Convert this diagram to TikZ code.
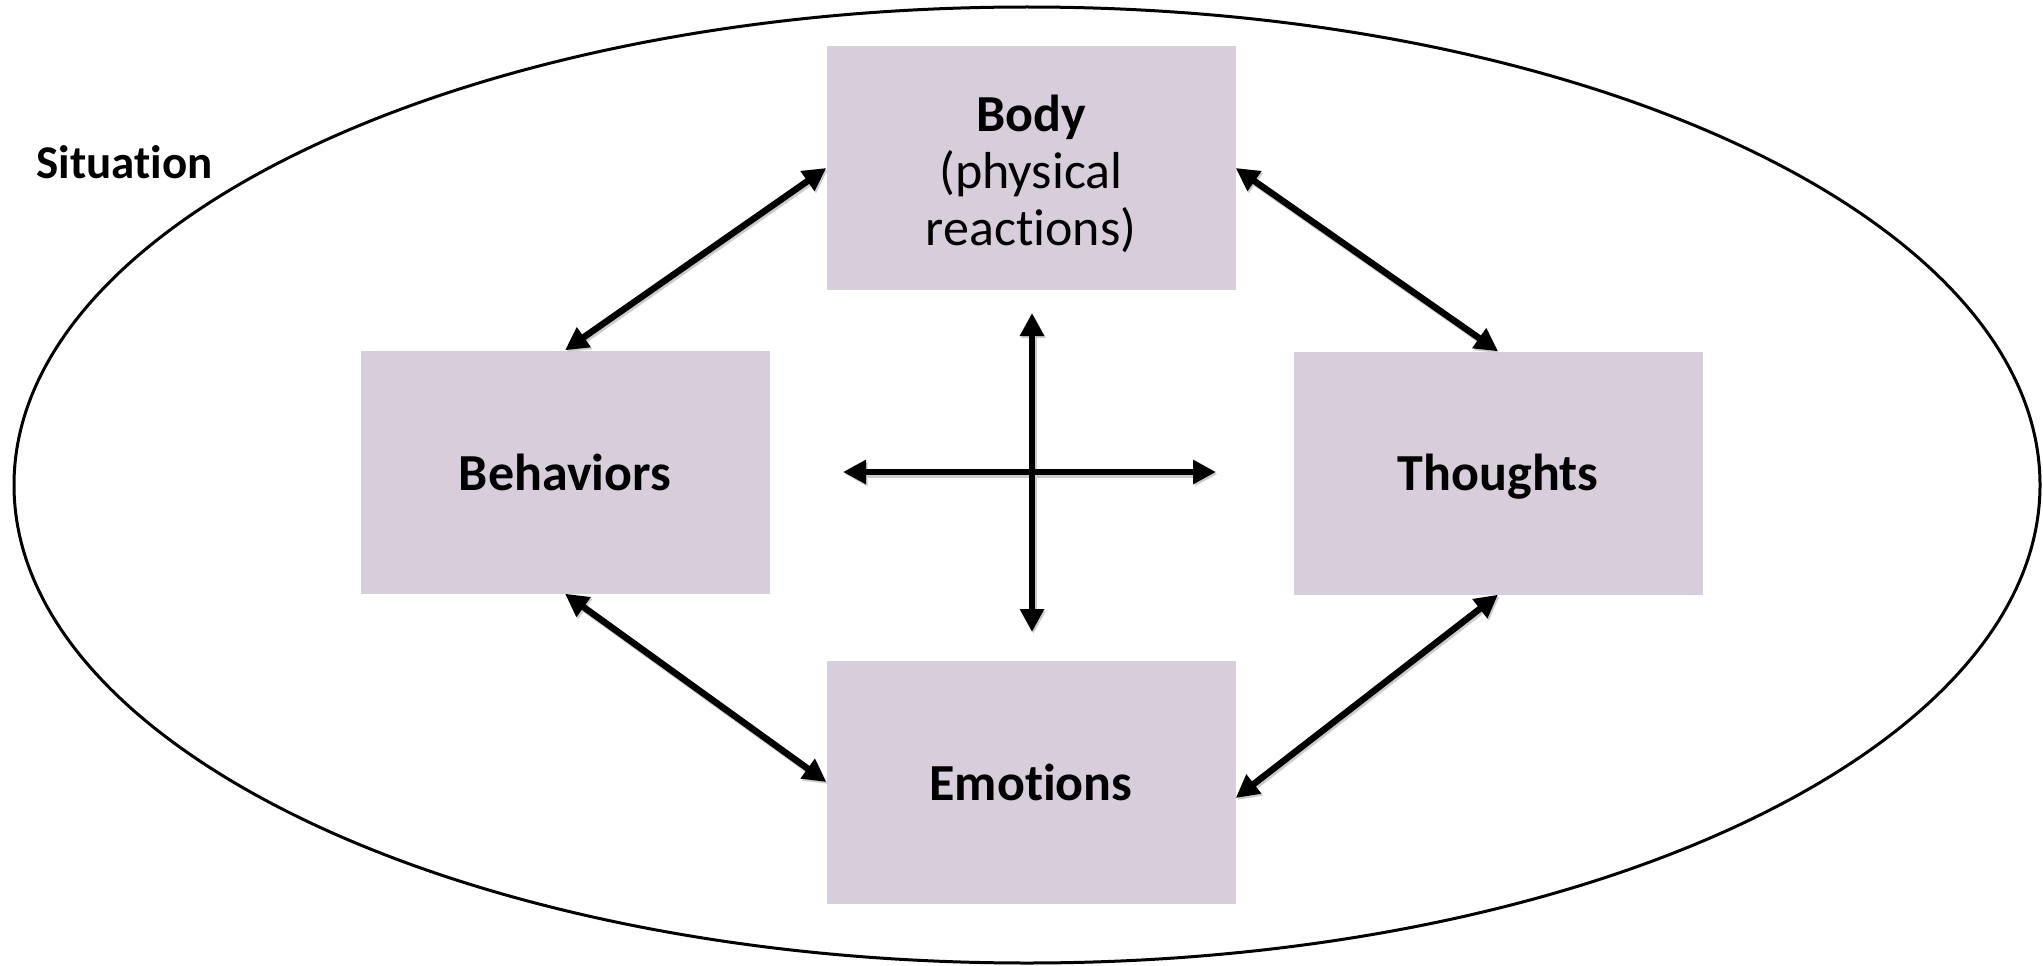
\documentclass[tikz,border=0pt]{standalone}
\usepackage{fontspec}
\setmainfont{Carlito}[Ligatures=NoCommon]
\usetikzlibrary{arrows.meta}
\definecolor{boxfill}{HTML}{D8CEDB}
\begin{document}
\begin{tikzpicture}[x=1pt,y=-1pt,
  stage/.style={rectangle, fill=boxfill, minimum width=409pt, minimum height=243pt,
    inner sep=0pt, align=center, font=\fontsize{52}{57}\selectfont},
  words/.style={align=center, inner sep=0pt, font=\fontsize{52}{57}\selectfont},
  link/.style={line width=6.5pt,
    {Triangle[length=23pt,width=23pt]}-{Triangle[length=23pt,width=23pt]}},
  soft/.style={draw=black!20, line width=7pt, transform canvas={shift={(1.5pt,-2pt)}},
    {Triangle[length=23pt,width=23pt]}-{Triangle[length=23pt,width=23pt]}},
]
\useasboundingbox (0,0) rectangle (2043,966);

% surrounding situation
\draw[line width=3pt] (1027,485) ellipse [x radius=1013, y radius=478];
\node[font=\bfseries\fontsize{47}{50}\selectfont, anchor=base west] (sit) at (33,178) {Situation};

% the four components
\node[stage] (body) at (1031,168) {};
\node[words] (bodytext) at (1031,174) {\textbf{Body}\\(physical\\reactions)};
\node[stage] (beh)  at (565,472)  {\textbf{Behaviors}};
\node[stage] (tho)  at (1498,473) {};
\node[words] (thotext) at (1498,477) {\textbf{Thoughts}};
\node[stage] (emo)  at (1031,782) {\textbf{Emotions}};

% ends of the central cross
\coordinate (up)    at (1032,313);
\coordinate (down)  at (1032,632);
\coordinate (left)  at (843,472);
\coordinate (right) at (1216,472);

% faint shadows under the links
\draw[soft] (beh.north) -- (body.west);
\draw[soft] (body.east) -- (tho.north);
\draw[soft] (beh.south) -- (emo.west);
\draw[soft] (tho.south) -- ([yshift=-16pt]emo.east);
\draw[soft] (up) -- (down);
\draw[soft] (left) -- (right);

% links between components
\draw[link] (beh.north) -- (body.west);
\draw[link] (body.east) -- (tho.north);
\draw[link] (beh.south) -- (emo.west);
\draw[link] (tho.south) -- ([yshift=-16pt]emo.east);
\draw[link] (up) -- (down);
\draw[link] (left) -- (right);
\end{tikzpicture}
\end{document}
